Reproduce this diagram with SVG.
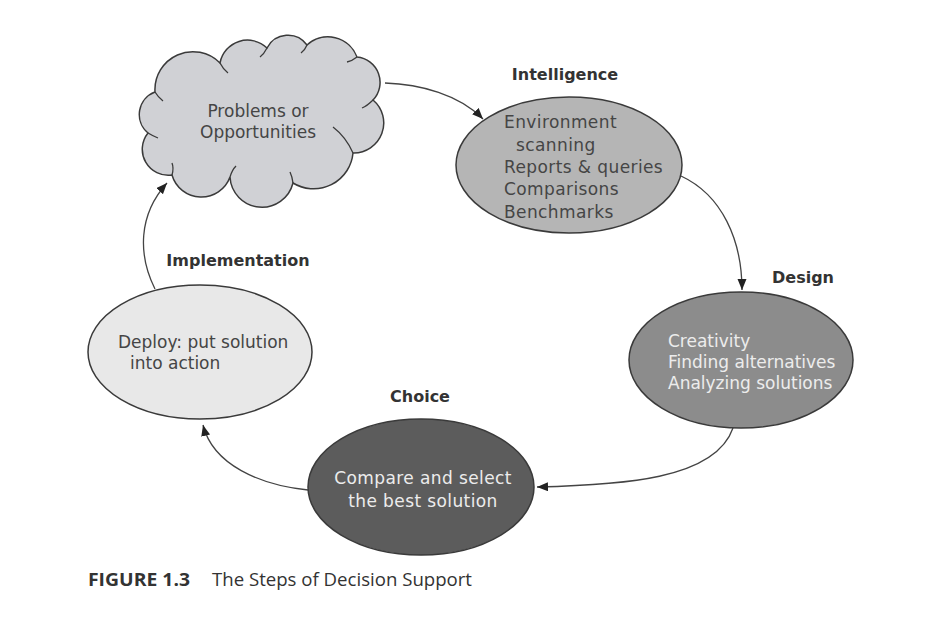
<svg xmlns="http://www.w3.org/2000/svg" width="952" height="633" viewBox="0 0 952 633">
<style>
.node { stroke: #3a3a3a; stroke-width: 1.5; }
.t { font-family: "DejaVu Sans", "Liberation Sans", sans-serif; font-size: 17px; }
.sp { letter-spacing: 0.4px; }
.dark { fill: #454545; }
.light { fill: #ececec; }
.lbl { font-family: "DejaVu Sans", "Liberation Sans", sans-serif; font-size: 16px; font-weight: bold; fill: #333; }
.conn { fill: none; stroke: #444; stroke-width: 1.3; }
.inner { fill: none; stroke: #3a3a3a; stroke-width: 1.3; }
.cap { font-family: "Open Sans", "Noto Sans", sans-serif; font-size: 18px; fill: #333; }
</style>
<defs>
<marker id="arr" markerWidth="12" markerHeight="10" refX="11" refY="4.5" orient="auto" markerUnits="userSpaceOnUse">
<path d="M0,0 L11,4.5 L0,9 z" fill="#222"/>
</marker>
</defs>
<rect width="952" height="633" fill="#ffffff"/>

<g id="connectors">
<path class="conn" d="M 385 83 C 420 84, 460 95, 483 119" marker-end="url(#arr)"/>
<path class="conn" d="M 681 176 C 722 195, 742 240, 742 290" marker-end="url(#arr)"/>
<path class="conn" d="M 733 428 C 715 480, 620 485, 537 487" marker-end="url(#arr)"/>
<path class="conn" d="M 308 490 C 260 485, 213 465, 203 425" marker-end="url(#arr)"/>
<path class="conn" d="M 155 289 C 138 255, 138 215, 167 183" marker-end="url(#arr)"/>
</g>

<g id="cloud">
<path class="node" fill="#d0d1d5" d="M 155 92 A 38 38 0 0 1 220 63 A 28 28 0 0 1 267 48 A 23.5 23.5 0 0 1 307 45 A 31 31 0 0 1 357 57 A 25.5 25.5 0 0 1 373 100 A 30 30 0 0 1 353 153 A 39.5 39.5 0 0 1 293 183 A 32 32 0 0 1 230 177 A 30.5 30.5 0 0 1 172 175 A 26 26 0 0 1 148 133 A 24 24 0 0 1 155 92 Z"/>
<path class="inner" d="M 220 63 Q 223 69, 228 73"/>
<path class="inner" d="M 267 48 Q 264 54, 260 57"/>
<path class="inner" d="M 307 45 Q 305 50, 301 53"/>
<path class="inner" d="M 357 57 Q 352 61, 347 62"/>
<path class="inner" d="M 373 100 Q 367 106, 362 108"/>
<path class="inner" d="M 353 153 Q 346 137, 333 127"/>
<path class="inner" d="M 293 183 Q 292 176, 290 172"/>
<path class="inner" d="M 230 177 Q 232 170, 236 166"/>
<path class="inner" d="M 172 175 Q 174 168, 172 163"/>
<path class="inner" d="M 148 133 Q 153 136, 158 138"/>
<path class="inner" d="M 155 92 Q 158 97, 163 101"/>
<text class="t dark" x="258" y="117" text-anchor="middle">Problems or</text>
<text class="t dark" x="258" y="138" text-anchor="middle">Opportunities</text>
</g>

<g id="intelligence">
<ellipse class="node" cx="569" cy="165" rx="113" ry="68" fill="#b5b5b5"/>
<text class="lbl" x="565" y="80" text-anchor="middle">Intelligence</text>
<text class="t sp dark" x="504" y="128">Environment</text>
<text class="t sp dark" x="516" y="151">scanning</text>
<text class="t sp dark" x="504" y="173">Reports &amp; queries</text>
<text class="t sp dark" x="504" y="195">Comparisons</text>
<text class="t sp dark" x="504" y="218">Benchmarks</text>
</g>

<g id="design">
<ellipse class="node" cx="741" cy="360" rx="112" ry="68" fill="#8c8c8c"/>
<text class="lbl" x="803" y="283" text-anchor="middle">Design</text>
<text class="t dark light" x="668" y="347">Creativity</text>
<text class="t light" x="668" y="368">Finding alternatives</text>
<text class="t light" x="668" y="389">Analyzing solutions</text>
</g>

<g id="choice">
<ellipse class="node" cx="421" cy="487" rx="113" ry="68" fill="#5c5c5c"/>
<text class="lbl" x="420" y="402" text-anchor="middle">Choice</text>
<text class="t sp light" x="423" y="484" text-anchor="middle">Compare and select</text>
<text class="t sp light" x="423" y="507" text-anchor="middle">the best solution</text>
</g>

<g id="implementation">
<ellipse class="node" cx="200" cy="352" rx="112" ry="67" fill="#e8e8e8"/>
<text class="lbl" x="238" y="266" text-anchor="middle">Implementation</text>
<text class="t dark" x="118" y="348">Deploy: put solution</text>
<text class="t dark" x="130" y="369">into action</text>
</g>

<g id="caption">
<text class="cap" x="88" y="586" font-weight="bold" textLength="102" lengthAdjust="spacingAndGlyphs">FIGURE 1.3</text>
<text class="cap" x="212" y="586" textLength="260" lengthAdjust="spacingAndGlyphs">The Steps of Decision Support</text>
</g>
</svg>
